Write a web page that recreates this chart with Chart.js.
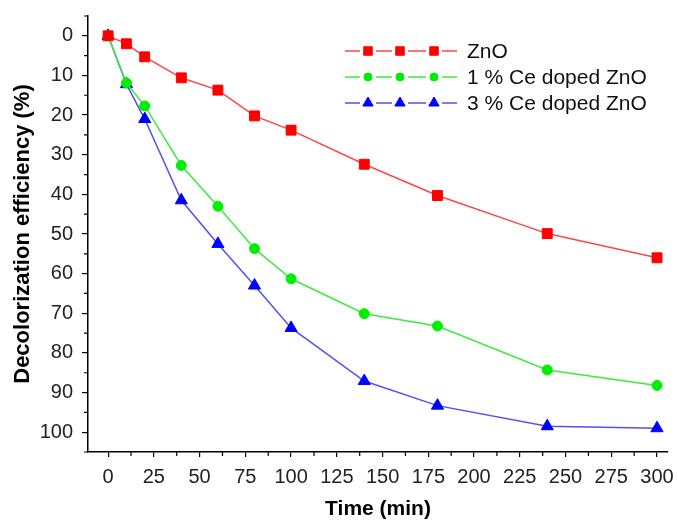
<!DOCTYPE html>
<html>
<head>
<meta charset="utf-8">
<script src="https://cdn.jsdelivr.net/npm/chart.js@4/dist/chart.umd.min.js"></script>
<style>
  html, body { margin: 0; padding: 0; background: #fff; }
  #wrap { width: 678px; height: 520px; }
</style>
</head>
<body>
<div id="wrap"><canvas id="decol-chart" width="678" height="520"></canvas></div>
<script>
// time points (min)
const times = [0, 10, 20, 40, 60, 80, 100, 140, 180, 240, 300];
// decolorization efficiency (%)
const zno = [0, 2, 5.3, 10.6, 13.7, 20.2, 23.8, 32.4, 40.3, 49.9, 56];
const ce1 = [0, 11.9, 17.7, 32.7, 43, 53.7, 61.3, 70.1, 73.2, 84.3, 88.2];
const ce3 = [0, 12.2, 21, 41.5, 52.5, 63, 73.7, 87.1, 93.3, 98.5, 99];
const seriesNames = ['ZnO', '1 % Ce doped ZnO', '3 % Ce doped ZnO'];
const xTicks = [0, 25, 50, 75, 100, 125, 150, 175, 200, 225, 250, 275, 300];
const yTicks = [0, 10, 20, 30, 40, 50, 60, 70, 80, 90, 100];

const styles = [
    { line: 'rgb(255,70,70)', fill: '#ff0000', point: 'rect', radius: 7 },
    { line: 'rgb(60,235,60)', fill: '#00ee00', point: 'circle', radius: 5 },
    { line: 'rgb(80,80,245)', fill: '#0000ff', point: 'triangle', radius: 7 }
];

const FONT = "'Liberation Sans', Arial, sans-serif";

function makeSet(name, values, st) {
    return {
        label: name,
        data: times.map((t, i) => ({ x: t, y: values[i] })),
        borderColor: st.line,
        backgroundColor: st.fill,
        borderWidth: 1.5,
        pointStyle: st.point,
        pointRadius: st.radius,
        pointBackgroundColor: st.fill,
        pointBorderColor: st.fill,
        pointBorderWidth: 1,
        tension: 0
    };
}

// minor ticks between the labelled ones
const minorTicks = {
    id: 'minorTicks',
    afterDraw(chart) {
        const ctx = chart.ctx;
        const xs = chart.scales.x, ys = chart.scales.y;
        ctx.save();
        ctx.strokeStyle = '#000';
        ctx.lineWidth = 1.2;
        ctx.beginPath();
        for (let v = 12.5; v < 300; v += 25) {
            const px = xs.getPixelForValue(v);
            ctx.moveTo(px, xs.top);
            ctx.lineTo(px, xs.top + 4);
        }
        for (let v = -5; v <= 105; v += 10) {
            const py = ys.getPixelForValue(v);
            ctx.moveTo(ys.right, py);
            ctx.lineTo(ys.right - 4, py);
        }
        ctx.stroke();
        ctx.restore();
    }
};

// legend drawn as line - marker - line - marker ...
const sampleLegend = {
    id: 'sampleLegend',
    afterDatasetsDraw(chart) {
        const ctx = chart.ctx;
        const rows = [51, 77, 103];
        const x0 = 345, x1 = 457;
        const marks = [368, 400, 434];
        ctx.save();
        seriesNames.forEach((name, i) => {
            const st = styles[i];
            const y = rows[i];
            ctx.strokeStyle = st.line;
            ctx.lineWidth = 1.5;
            ctx.beginPath();
            let from = x0;
            marks.forEach(m => {
                ctx.moveTo(from, y);
                ctx.lineTo(m - 8, y);
                from = m + 8;
            });
            ctx.moveTo(from, y);
            ctx.lineTo(x1, y);
            ctx.stroke();
            ctx.fillStyle = st.fill;
            ctx.strokeStyle = st.fill;
            ctx.lineWidth = 1;
            marks.forEach(m => {
                Chart.helpers.drawPoint(ctx, { pointStyle: st.point, radius: st.radius - 1, borderWidth: 1 }, m, y);
            });
            ctx.fillStyle = '#111';
            ctx.font = '21px ' + FONT;
            ctx.textBaseline = 'middle';
            ctx.textAlign = 'left';
            ctx.fillText(name, 467, y + 1);
        });
        ctx.restore();
    }
};

new Chart(document.getElementById('decol-chart').getContext('2d'), {
    type: 'line',
    data: {
        datasets: [
            makeSet(seriesNames[0], zno, styles[0]),
            makeSet(seriesNames[1], ce1, styles[1]),
            makeSet(seriesNames[2], ce3, styles[2])
        ]
    },
    options: {
        responsive: false,
        animation: false,
        layout: { padding: { left: 0, top: 16, right: 10, bottom: 0 } },
        plugins: {
            legend: { display: false },
            tooltip: { enabled: false }
        },
        scales: {
            x: {
                type: 'linear',
                min: -11,
                max: 306,
                afterBuildTicks: scale => { scale.ticks = xTicks.map(v => ({ value: v })); },
                afterFit: scale => {
                    scale.height = 68;
                    scale.paddingLeft = 0;
                    scale.paddingRight = 0;
                },
                grid: { drawOnChartArea: false, drawTicks: true, tickLength: 5, color: '#000', lineWidth: 1.2 },
                border: { display: true, color: '#000', width: 1.5 },
                ticks: {
                    padding: 8,
                    maxRotation: 0,
                    autoSkip: false,
                    color: '#222',
                    font: { family: FONT, size: 20 }
                },
                title: {
                    display: true,
                    text: 'Time (min)',
                    color: '#000',
                    padding: 0,
                    font: { family: FONT, size: 21, weight: 'bold', lineHeight: 1 }
                }
            },
            y: {
                type: 'linear',
                reverse: true,
                min: -5,
                max: 105,
                afterBuildTicks: scale => { scale.ticks = yTicks.map(v => ({ value: v })); },
                afterFit: scale => {
                    scale.width = 88;
                    scale.paddingTop = 0;
                    scale.paddingBottom = 0;
                },
                grid: { drawOnChartArea: false, drawTicks: true, tickLength: 6, color: '#000', lineWidth: 1.2 },
                border: { display: true, color: '#000', width: 1.5 },
                ticks: {
                    padding: 9,
                    autoSkip: false,
                    color: '#222',
                    font: { family: FONT, size: 20 }
                },
                title: {
                    display: true,
                    text: 'Decolorization efficiency (%)',
                    color: '#000',
                    padding: { top: 12, bottom: 0 },
                    font: { family: FONT, size: 22, weight: 'bold', lineHeight: 1 }
                }
            }
        }
    },
    plugins: [minorTicks, sampleLegend]
});
</script>
</body>
</html>
